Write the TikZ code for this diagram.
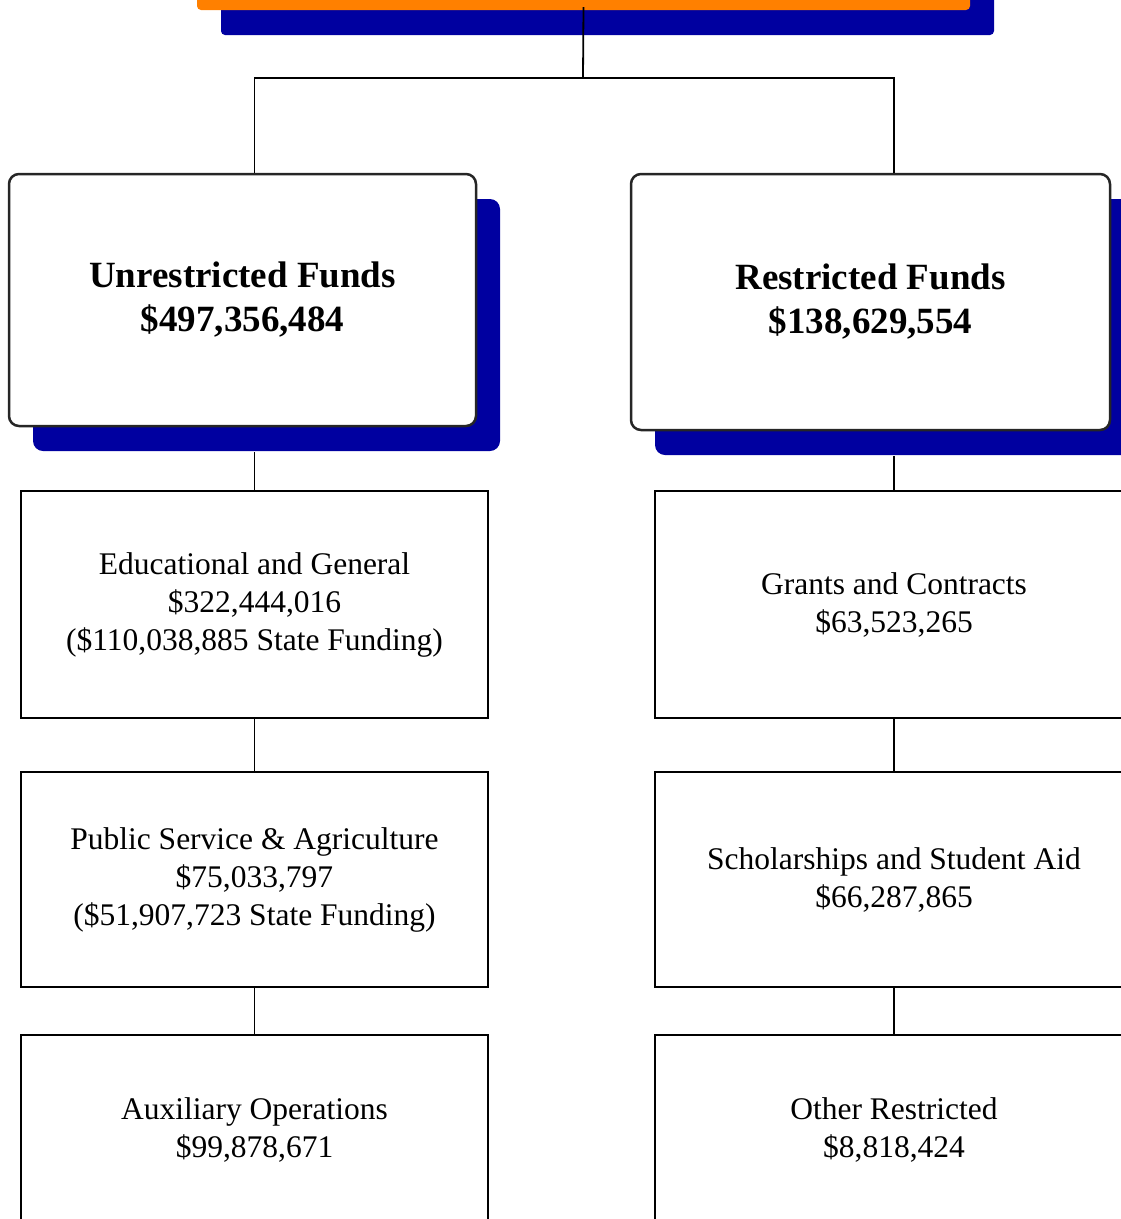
\documentclass[tikz,border=0pt]{standalone}
\usepackage{fontspec}
\setmainfont{Liberation Serif}
\usetikzlibrary{shadows}
\definecolor{navy}{RGB}{0,0,160}
\definecolor{tangerine}{RGB}{255,128,0}
\begin{document}
\begin{tikzpicture}[x=1pt,y=-1pt,
  backing/.style={drop shadow={shadow xshift=24pt,shadow yshift=-25pt,fill=navy,opacity=1}},
  fundbox/.style={draw=black!85,line width=2.5pt,rounded corners=10pt,fill=white,backing,align=center,inner sep=0pt,font=\fontsize{37}{44}\selectfont\bfseries},
  itembox/.style={draw,line width=1.8pt,fill=white,align=center,inner sep=0pt,font=\fontsize{31.5}{38}\selectfont},
  link/.style={line width=1.8pt}]
\useasboundingbox (0,0) rectangle (1121,1219);
\clip (0,0) rectangle (1121,1219);
\node[fill=tangerine,rounded corners=4pt,backing,minimum width=773pt,minimum height=70pt](title) at (583.5,-25){};
\node[fundbox,minimum width=467pt,minimum height=252pt](unres) at (242.5,300){Unrestricted Funds\\\$497,356,484};
\node[fundbox,minimum width=479pt,minimum height=256pt](res) at (870.5,302){Restricted Funds\\\$138,629,554};
\node[itembox,minimum width=467pt,minimum height=227pt](edu) at (254.5,604.5){Educational and General\\\$322,444,016\\(\$110,038,885 State Funding)};
\node[itembox,minimum width=467pt,minimum height=215pt](public) at (254.5,879.5){Public Service \& Agriculture\\\$75,033,797\\(\$51,907,723 State Funding)};
\node[itembox,minimum width=467pt,minimum height=190pt](aux) at (254.5,1130){Auxiliary Operations\\\$99,878,671};
\node[itembox,minimum width=478pt,minimum height=227pt](grants) at (894,604.5){Grants and Contracts\\\$63,523,265};
\node[itembox,minimum width=478pt,minimum height=215pt](schol) at (894,879.5){Scholarships and Student Aid\\\$66,287,865};
\node[itembox,minimum width=478pt,minimum height=190pt](other) at (894,1130){Other Restricted\\\$8,818,424};
\coordinate (fork) at (583,78);
\draw[link] ([yshift=3pt]title.south) -- (fork);
\draw[link] (fork) -| (unres.north -| edu.north);
\draw[link] (fork) -| (res.north -| grants.north);
\draw[link] ([yshift=-25pt]unres.south -| edu.north) -- (edu.north);
\draw[link] ([yshift=-25pt]res.south -| grants.north) -- (grants.north);
\draw[link] (edu) -- (public) (public) -- (aux);
\draw[link] (grants) -- (schol) (schol) -- (other);
\end{tikzpicture}
\end{document}
